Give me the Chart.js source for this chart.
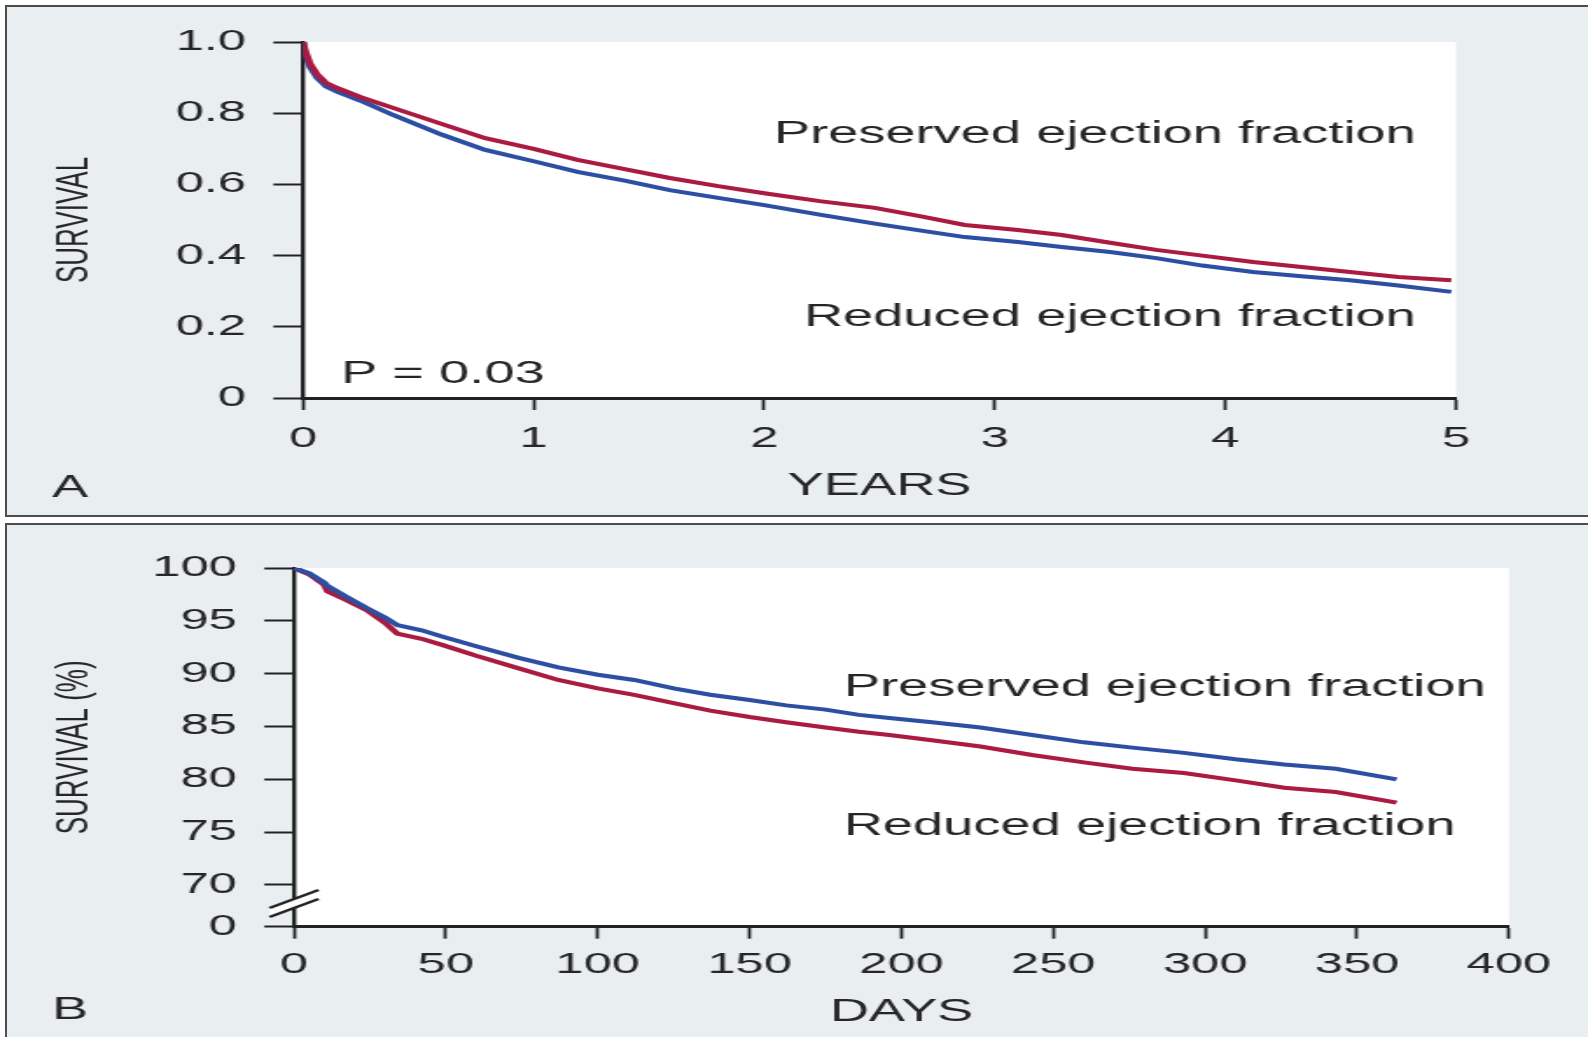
<!DOCTYPE html>
<html>
<head>
<meta charset="utf-8">
<script src="https://cdn.jsdelivr.net/npm/chart.js@4.4.1/dist/chart.umd.min.js"></script>
<style>
  html, body { margin: 0; padding: 0; background: #fff; }
  body { width: 1588px; height: 1037px; position: relative; overflow: hidden; }
  .panel { position: absolute; left: 5px; width: 1600px; background: #e9eef1; border: 2px solid #4d4d4d; }
  #panelA { top: 5px; height: 508px; }
  #panelB { top: 523px; height: 520px; }
  canvas { position: absolute; left: 0; transform-origin: 0 0; }
  #chartA { top: 0; }
  #chartB { top: 520px; }
</style>
</head>
<body>
<div class="panel" id="panelA"></div>
<div class="panel" id="panelB"></div>
<canvas id="chartA" width="908" height="520"></canvas>
<canvas id="chartB" width="908" height="517"></canvas>
<script>
// the source figure is a horizontally stretched scan, so the canvases are drawn narrow and stretched
const STRETCH = 1588 / 908;
const FONT = '"Liberation Sans", Arial, Helvetica, sans-serif';
const INK = '#262626';
const RED = '#ab1a40';
const BLUE = '#2c4fa3';

// panel A: survival over 5 years
const yearsA = [0, 0.01, 0.03, 0.06, 0.1, 0.15, 0.25, 0.39, 0.6, 0.79, 1.0, 1.19, 1.4, 1.59, 1.8,
  2.0, 2.24, 2.48, 2.68, 2.87, 3.1, 3.29, 3.5, 3.7, 3.9, 4.12, 4.33, 4.54, 4.75, 4.98];
const preservedA = [1.0, 0.975, 0.94, 0.91, 0.885, 0.87, 0.845, 0.815, 0.77, 0.73, 0.70, 0.669, 0.642, 0.618, 0.595,
  0.575, 0.553, 0.534, 0.51, 0.486, 0.472, 0.458, 0.436, 0.416, 0.40, 0.382, 0.368, 0.354, 0.34, 0.331];
const reducedA = [1.0, 0.965, 0.93, 0.9, 0.875, 0.86, 0.835, 0.795, 0.74, 0.697, 0.665, 0.635, 0.61, 0.584, 0.562,
  0.542, 0.515, 0.49, 0.47, 0.452, 0.438, 0.424, 0.41, 0.393, 0.372, 0.354, 0.342, 0.331, 0.316, 0.298];
const yearTicks = [0, 1, 2, 3, 4, 5];
const survivalTicksA = [0, 0.2, 0.4, 0.6, 0.8, 1.0];

// panel B: survival over the first year
const daysB = [0, 5, 10, 11, 17, 24, 30, 34, 42, 49, 60, 74, 87, 100, 112, 125, 137, 150, 162, 175,
  186, 196, 210, 226, 243, 260, 276, 293, 310, 326, 343, 363];
const preservedB = [100, 99.5, 98.6, 98.3, 97.3, 96.2, 95.3, 94.6, 94.1, 93.5, 92.6, 91.5, 90.6, 89.9, 89.4, 88.6,
  88.0, 87.5, 87.0, 86.6, 86.1, 85.8, 85.4, 84.9, 84.2, 83.5, 83.0, 82.5, 81.9, 81.4, 81.0, 80.0];
const reducedB = [100, 99.4, 98.4, 97.8, 97.0, 96.0, 94.8, 93.8, 93.3, 92.7, 91.7, 90.5, 89.4, 88.6, 88.0, 87.2,
  86.5, 85.9, 85.4, 84.9, 84.5, 84.2, 83.7, 83.1, 82.3, 81.6, 81.0, 80.6, 79.9, 79.2, 78.8, 77.8];
const dayTicks = [0, 50, 100, 150, 200, 250, 300, 350, 400];
const axisFloorB = 66.05; // value where the "0" label sits below the axis break
const survivalTicksB = [axisFloorB, 70, 75, 80, 85, 90, 95, 100];

Chart.defaults.font.family = FONT;
Chart.defaults.color = INK;

const points = (xs, ys) => xs.map((x, i) => ({ x: x, y: ys[i] }));

function line(label, data, color) {
  return { label: label, data: data, borderColor: color, backgroundColor: color,
    borderWidth: 4, pointRadius: 0, tension: 0, fill: false };
}

function axisX(min, max, ticks, title, height, labelPad, titlePad) {
  return {
    type: 'linear', min: min, max: max,
    afterBuildTicks: s => { s.ticks = ticks.map(v => ({ value: v })); },
    ticks: { font: { size: 29 }, padding: labelPad, maxRotation: 0, autoSkip: false },
    grid: { drawOnChartArea: false, tickLength: 12, tickColor: '#222', tickWidth: 1.8 },
    border: { color: '#222', width: 3 },
    title: { display: true, text: title, font: { size: 31 }, padding: { top: 0, bottom: titlePad } },
    afterFit: s => { s.height = height; }
  };
}

function axisY(min, max, ticks, fmt, title, width) {
  return {
    min: min, max: max,
    afterBuildTicks: s => { s.ticks = ticks.map(v => ({ value: v })); },
    ticks: { font: { size: 29 }, padding: 15.6, autoSkip: false, callback: fmt },
    grid: { drawOnChartArea: false, tickLength: 17, tickColor: '#222', tickWidth: 2 },
    border: { color: '#222', width: 2.4 },
    title: { display: true, text: title, font: { size: 26 }, padding: { top: 27.5, bottom: 0 } },
    afterFit: s => { s.width = width; }
  };
}

function notes(items, letter, letterY, extra) {
  return {
    id: 'notes',
    beforeDraw(chart) {
      const { ctx, chartArea: a } = chart;
      ctx.save();
      ctx.fillStyle = '#fff';
      ctx.fillRect(a.left, a.top, a.right - a.left, a.bottom - a.top);
      ctx.restore();
    },
    afterDraw(chart) {
      const { ctx, scales: { x, y } } = chart;
      ctx.save();
      ctx.fillStyle = INK;
      ctx.textBaseline = 'middle';
      ctx.font = '31px ' + FONT;
      items.forEach(n => {
        ctx.textAlign = n.align;
        ctx.fillText(n.text, x.getPixelForValue(n.x), y.getPixelForValue(n.y));
      });
      ctx.textAlign = 'center';
      ctx.fillText(letter, 40, letterY);
      if (extra) extra(chart);
      ctx.restore();
    }
  };
}

// "//" mark on the broken survival axis of panel B
function axisBreak(chart) {
  const { ctx, scales: { y } } = chart;
  const cx = chart.chartArea.left;
  const cy = y.getPixelForValue(68.25);
  ctx.fillStyle = '#fff';
  ctx.beginPath();
  ctx.moveTo(cx - 14, cy + 4.5); ctx.lineTo(cx + 14, cy - 13.5);
  ctx.lineTo(cx + 14, cy - 4.5); ctx.lineTo(cx - 14, cy + 13.5);
  ctx.closePath();
  ctx.fill();
  ctx.strokeStyle = '#222';
  ctx.lineWidth = 2.2;
  [-4.5, 4.5].forEach(d => {
    ctx.beginPath();
    ctx.moveTo(cx - 14, cy + 9 + d);
    ctx.lineTo(cx + 14, cy - 9 + d);
    ctx.stroke();
  });
}

function setup(id) {
  const c = document.getElementById(id);
  c.style.transform = 'scaleX(' + STRETCH + ')';
  return c;
}

new Chart(setup('chartA'), {
  type: 'line',
  data: { datasets: [
    line('Preserved ejection fraction', points(yearsA, preservedA), RED),
    line('Reduced ejection fraction', points(yearsA, reducedA), BLUE)
  ] },
  options: {
    responsive: false, animation: false, devicePixelRatio: 1,
    layout: { padding: { top: 42, right: 75.5, left: 0, bottom: 0 } },
    plugins: { legend: { display: false }, tooltip: { enabled: false } },
    scales: {
      x: axisX(0, 5, yearTicks, 'YEARS', 122, 11.5, 15.4),
      y: axisY(0, 1, survivalTicksA, v => v === 0 ? '0' : v.toFixed(1), 'SURVIVAL', 173.3)
    }
  },
  plugins: [notes([
    { text: 'Preserved ejection fraction', x: 4.826, y: 0.74, align: 'right' },
    { text: 'Reduced ejection fraction', x: 4.826, y: 0.225, align: 'right' },
    { text: 'P = 0.03', x: 0.165, y: 0.067, align: 'left' }
  ], 'A', 488)]
});

new Chart(setup('chartB'), {
  type: 'line',
  data: { datasets: [
    line('Preserved ejection fraction', points(daysB, preservedB), BLUE),
    line('Reduced ejection fraction', points(daysB, reducedB), RED)
  ] },
  options: {
    responsive: false, animation: false, devicePixelRatio: 1,
    layout: { padding: { top: 48, right: 45.2, left: 0, bottom: 0 } },
    plugins: { legend: { display: false }, tooltip: { enabled: false } },
    scales: {
      x: axisX(0, 400, dayTicks, 'DAYS', 110.3, 9, 5.6),
      y: axisY(axisFloorB, 100, survivalTicksB, v => v < 70 ? '0' : String(v), 'SURVIVAL (%)', 168.1)
    }
  },
  plugins: [notes([
    { text: 'Preserved ejection fraction', x: 181, y: 88.67, align: 'left' },
    { text: 'Reduced ejection fraction', x: 181, y: 75.55, align: 'left' }
  ], 'B', 490.8, axisBreak)]
});
</script>
</body>
</html>
